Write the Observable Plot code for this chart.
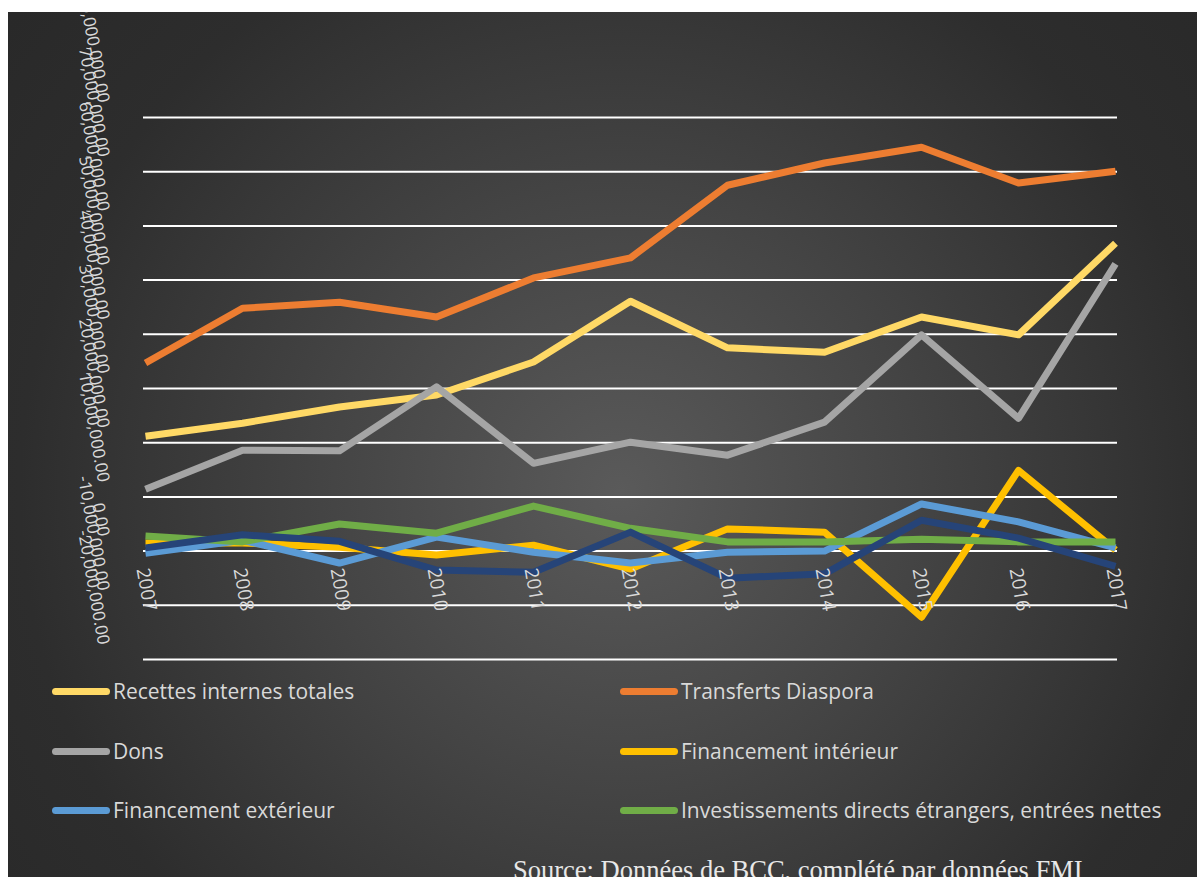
<!DOCTYPE html>
<html><head><meta charset="utf-8">
<script src="https://cdn.jsdelivr.net/npm/d3@7"></script>
<script src="https://cdn.jsdelivr.net/npm/@observablehq/plot@0.6"></script>
<style>
html,body{margin:0;padding:0;background:#fff;overflow:hidden;width:1197px;height:877px;}
#panel{position:absolute;left:8px;top:12px;width:1189px;height:865px;overflow:hidden;
  background:radial-gradient(circle at 612px 480px,#5a5a5a 0px,#444 300px,#2d2d2d 600px,#262626 900px);}
#chart{position:absolute;left:0;top:0;}
.leg{position:absolute;display:flex;align-items:center;height:24px;font-family:"Open Sans",sans-serif;font-size:21px;color:#d9d9d9;white-space:nowrap;}
.sw{display:inline-block;width:58px;height:7px;border-radius:4px;margin-right:3px;}
#source{position:absolute;left:505px;top:845px;font-family:"Liberation Serif",serif;font-size:26.5px;color:#e8e8e8;line-height:1;white-space:nowrap;}
</style></head>
<body>
<div id="panel">
  <div id="chart"></div>
  <div id="legend"></div>
  <div id="source">Source: Données de BCC, complété par données FMI</div>
</div>
<script>
// ---- data (values in millions) ----
const years = [2007, 2008, 2009, 2010, 2011, 2012, 2013, 2014, 2015, 2016, 2017];
const seriesNames = [
  "Recettes internes totales",
  "Transferts Diaspora",
  "Dons",
  "Financement intérieur",
  "Financement extérieur",
  "Investissements directs étrangers, entrées nettes",
  "Autre"
];
const seriesColors = ["#FFD966", "#ED7D31", "#A5A5A5", "#FFC000", "#5B9BD5", "#70AD47", "#264478"];
const recettes      = [21.2, 23.6, 26.6, 28.8, 34.9, 46.1, 37.5, 36.7, 43.2, 39.9, 56.8];
const transferts    = [34.7, 44.8, 45.9, 43.2, 50.4, 54.1, 67.5, 71.6, 74.5, 67.9, 70.1];
const dons          = [11.4, 18.6, 18.5, 30.3, 16.2, 20.1, 17.7, 23.8, 39.9, 24.5, 53.0];
const finInterieur  = [1.5, 1.5, 0.7, -0.7, 1.1, -3.3, 4.1, 3.5, -12.2, 14.9, 0.2];
const finExterieur  = [-0.4, 2.0, -2.2, 2.6, -0.2, -2.2, -0.2, 0.0, 8.7, 5.4, 0.6];
const ide           = [2.8, 1.7, 5.0, 3.3, 8.3, 4.2, 1.7, 1.7, 2.2, 1.7, 1.7];
const autre         = [0.6, 3.0, 1.8, -3.5, -3.9, 3.5, -5.0, -4.2, 5.7, 2.4, -2.8];
const seriesValues = [recettes, transferts, dons, finInterieur, finExterieur, ide, autre];
const yTicks = [-20, -10, 0, 10, 20, 30, 40, 50, 60, 70, 80];
const legendCount = 6;

// ---- build table ----
const rows = [];
seriesNames.forEach((name, i) => years.forEach((yr, j) => rows.push({series: name, year: yr, value: seriesValues[i][j]})));

const fmtLocale = d3.formatLocale({decimal: ".", thousands: ",", grouping: [3], currency: ["$", ""], minus: "-"});
const fmt = fmtLocale.format(",.2f");
const yLabel = d => fmt(d * 1e6);

const chart = Plot.plot({
  width: 1189,
  height: 658,
  marginTop: 105,
  marginBottom: 11,
  marginLeft: 135,
  marginRight: 80,
  style: {background: "transparent", overflow: "visible"},
  x: {type: "point", domain: years, padding: 0, axis: null},
  y: {domain: [-20, 80], axis: null},
  color: {domain: seriesNames, range: seriesColors},
  marks: [
    Plot.ruleY(yTicks, {stroke: "#ffffff", strokeWidth: 2}),
    Plot.line(rows, {x: "year", y: "value", z: "series", stroke: "series", strokeWidth: 7, strokeLinejoin: "round", strokeLinecap: "butt"}),
    Plot.text(yTicks, {y: d => d, text: yLabel, frameAnchor: "left", dx: -40, dy: -15, rotate: 80,
      textAnchor: "end", lineAnchor: "middle", fill: "#d9d9d9", fontSize: 17, fontFamily: "Open Sans"}),
    Plot.text(years, {x: d => d, y: () => 0, text: d => String(d), dx: -3, dy: 17, rotate: 80,
      textAnchor: "start", lineAnchor: "middle", fill: "#d9d9d9", fontSize: 19, fontFamily: "Open Sans"})
  ]
});
document.getElementById("chart").appendChild(chart);

// ---- legend ----
const legend = document.getElementById("legend");
const colLeft = [44, 612];
const rowTop = [667, 727, 786];
for (let i = 0; i < legendCount; i++) {
  const d = document.createElement("div");
  d.className = "leg";
  d.style.left = colLeft[i % 2] + "px";
  d.style.top = rowTop[Math.floor(i / 2)] + "px";
  const sw = document.createElement("span");
  sw.className = "sw";
  sw.style.background = seriesColors[i];
  d.appendChild(sw);
  d.appendChild(document.createTextNode(seriesNames[i]));
  legend.appendChild(d);
}
</script>
</body></html>
